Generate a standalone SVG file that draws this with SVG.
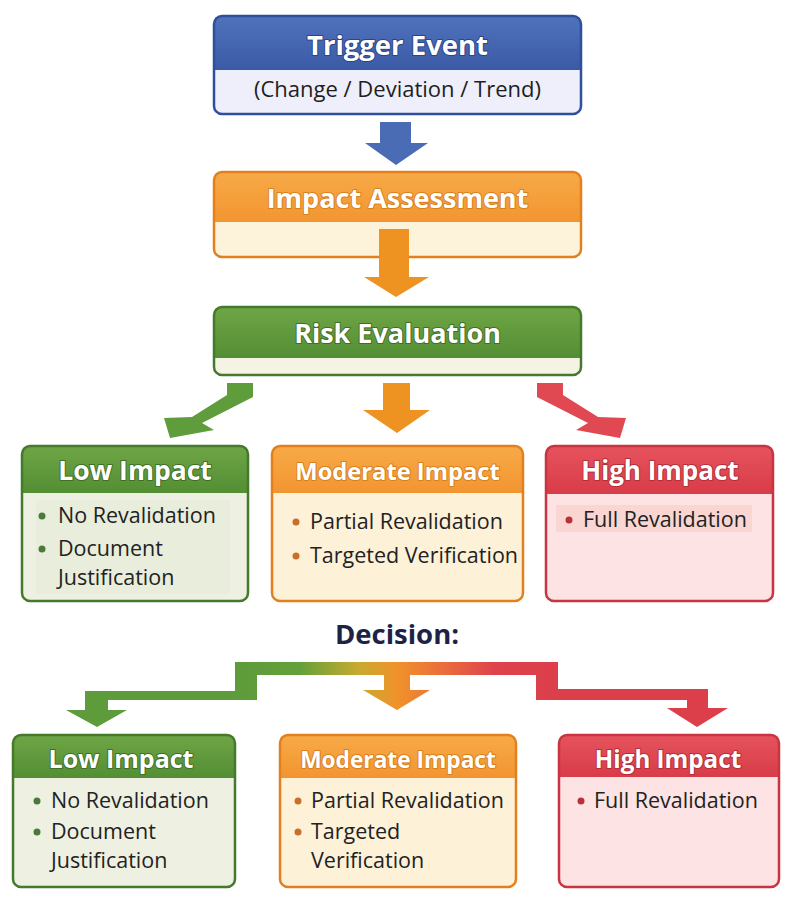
<svg xmlns="http://www.w3.org/2000/svg" width="797" height="900" viewBox="0 0 797 900">
<defs>
<linearGradient id="gBlue" x1="0" y1="0" x2="0" y2="1"><stop offset="0" stop-color="#5072bb"/><stop offset="1" stop-color="#3b5aa6"/></linearGradient>
<linearGradient id="gOrange" x1="0" y1="0" x2="0" y2="1"><stop offset="0" stop-color="#f7aa48"/><stop offset="1" stop-color="#f29530"/></linearGradient>
<linearGradient id="gGreen" x1="0" y1="0" x2="0" y2="1"><stop offset="0" stop-color="#6ea646"/><stop offset="1" stop-color="#548e34"/></linearGradient>
<linearGradient id="gRed" x1="0" y1="0" x2="0" y2="1"><stop offset="0" stop-color="#e6535d"/><stop offset="1" stop-color="#d83c48"/></linearGradient>
<linearGradient id="gDecision" gradientUnits="userSpaceOnUse" x1="235" y1="0" x2="560" y2="0">
<stop offset="0" stop-color="#5e9b3a"/><stop offset="0.2" stop-color="#64a03a"/><stop offset="0.38" stop-color="#c8aa30"/><stop offset="0.5" stop-color="#f0922a"/><stop offset="0.65" stop-color="#ea6a3e"/><stop offset="0.8" stop-color="#de424c"/><stop offset="1" stop-color="#dc3f4a"/>
</linearGradient>
</defs>
<style>
.title{font-family:"Open Sans",Lato,"Liberation Sans",sans-serif;font-weight:700;fill:#fff;text-anchor:middle;paint-order:stroke;stroke-width:2px;stroke-linejoin:round}
.sub{font-family:"Open Sans",Lato,"Liberation Sans",sans-serif;font-size:22px;fill:#1e1e1e;text-anchor:middle}
.item{font-family:"Open Sans",Lato,"Liberation Sans",sans-serif;font-size:21.5px;fill:#222}
.border{fill:none;stroke-width:2.5px}
.b-blue{stroke:#2f4f9a}.b-orange{stroke:#e3801e}.b-green{stroke:#457a2c}.b-red{stroke:#c83440}
.s-blue{stroke:#2a4488}.s-orange{stroke:#d9801e}.s-green{stroke:#3e6f26}.s-red{stroke:#b52e3a}
.dg{fill:#4a7a3a}.do{fill:#c8702a}.dr{fill:#b83238}
.decision{font-family:"Open Sans",Lato,"Liberation Sans",sans-serif;font-weight:700;font-size:27.5px;fill:#1c2347;text-anchor:middle}
</style>
<rect width="797" height="900" fill="#ffffff"/>

<g id="trigger">
<rect x="214" y="16" width="367" height="98" rx="8" fill="#eeeffa"/>
<path d="M214,70 V24 Q214,16 222,16 H573 Q581,16 581,24 V70 Z" fill="url(#gBlue)"/>
<rect x="214" y="16" width="367" height="98" rx="8" class="border b-blue"/>
<text x="397.5" y="55" class="title s-blue" font-size="27.5">Trigger Event</text>
<text x="397.5" y="97" class="sub">(Change / Deviation / Trend)</text>
</g>

<g id="impact-assessment">
<rect x="214" y="172" width="367" height="85" rx="8" fill="#fdf2da"/>
<path d="M214,222 V180 Q214,172 222,172 H573 Q581,172 581,180 V222 Z" fill="url(#gOrange)"/>
<rect x="214" y="172" width="367" height="85" rx="8" class="border b-orange"/>
<text x="397.5" y="208" class="title s-orange" font-size="27">Impact Assessment</text>
</g>

<g id="risk-evaluation">
<rect x="214" y="307" width="367" height="68" rx="8" fill="#f5f3e3"/>
<path d="M214,358 V315 Q214,307 222,307 H573 Q581,307 581,315 V358 Z" fill="url(#gGreen)"/>
<rect x="214" y="307" width="367" height="68" rx="8" class="border b-green"/>
<text x="397.5" y="343" class="title s-green" font-size="27">Risk Evaluation</text>
</g>

<g id="connectors">
<polygon points="380,122 411,122 411,143 428,143 396,165 365,143 380,143" fill="#4a6cb5"/>
<polygon points="379,229 409,229 409,277 429,277 396,297 364,277 379,277" fill="#ee9322"/>
<polygon points="227,383 253,383 253,397 202,423 214,430 170,438 164,418 192,417 227,395" fill="#5e9c3c"/>
<polygon points="383,383 410,383 410,410 430,410 397,433 363,410 383,410" fill="#ee9322"/>
<polygon points="563,383 537,383 537,397 588,423 576,430 620,438 626,418 598,417 563,395" fill="#e04852"/>
<path d="M235,662 H558 V689 H708 V708 H728 L697,727 L667,708 H687 V700 H536 V675 H410 V690 H430 L397,710 L363,690 H384 V675 H257 V700 H108 V710 H127 L97,727 L66,710 H85 V691 H235 Z" fill="url(#gDecision)"/>
</g>

<g id="low-impact-1">
<rect x="22" y="446" width="226" height="155" rx="8" fill="#eef1e2"/>
<rect x="36" y="500" width="194" height="94" fill="#e9eddc"/>
<path d="M22,493 V454 Q22,446 30,446 H240 Q248,446 248,454 V493 Z" fill="url(#gGreen)"/>
<rect x="22" y="446" width="226" height="155" rx="8" class="border b-green"/>
<text x="135" y="480" class="title s-green" font-size="26.5">Low Impact</text>
<circle cx="42" cy="516" r="3.5" class="dg"/>
<text x="58" y="523" class="item">No Revalidation</text>
<circle cx="42" cy="549" r="3.5" class="dg"/>
<text x="58" y="556" class="item">Document</text>
<text x="58" y="585" class="item">Justification</text>
</g>

<g id="moderate-impact-1">
<rect x="272" y="446" width="251" height="155" rx="8" fill="#fdf1d8"/>
<path d="M272,493 V454 Q272,446 280,446 H515 Q523,446 523,454 V493 Z" fill="url(#gOrange)"/>
<rect x="272" y="446" width="251" height="155" rx="8" class="border b-orange"/>
<text x="397.5" y="480" class="title s-orange" font-size="23.7">Moderate Impact</text>
<circle cx="296" cy="522" r="3.5" class="do"/>
<text x="310" y="529" class="item" font-size="21">Partial Revalidation</text>
<circle cx="296" cy="556" r="3.5" class="do"/>
<text x="310" y="563" class="item" font-size="21">Targeted Verification</text>
</g>

<g id="high-impact-1">
<rect x="546" y="446" width="227" height="155" rx="8" fill="#fde3e3"/>
<rect x="556" y="505" width="196" height="27" fill="#f9d6d2"/>
<path d="M546,494 V454 Q546,446 554,446 H765 Q773,446 773,454 V494 Z" fill="url(#gRed)"/>
<rect x="546" y="446" width="227" height="155" rx="8" class="border b-red"/>
<text x="660" y="480" class="title s-red" font-size="26">High Impact</text>
<circle cx="569" cy="520" r="3.5" class="dr"/>
<text x="583" y="527" class="item">Full Revalidation</text>
</g>

<g id="decision-label">
<text x="397" y="644" class="decision">Decision:</text>
</g>

<g id="low-impact-2">
<rect x="13" y="735" width="222" height="152" rx="8" fill="#eef1e2"/>
<path d="M13,778 V743 Q13,735 21,735 H227 Q235,735 235,743 V778 Z" fill="url(#gGreen)"/>
<rect x="13" y="735" width="222" height="152" rx="8" class="border b-green"/>
<text x="121" y="768" class="title s-green" font-size="25">Low Impact</text>
<circle cx="37" cy="801" r="3.5" class="dg"/>
<text x="51" y="808" class="item">No Revalidation</text>
<circle cx="37" cy="832" r="3.5" class="dg"/>
<text x="51" y="839" class="item">Document</text>
<text x="51" y="868" class="item">Justification</text>
</g>

<g id="moderate-impact-2">
<rect x="280" y="735" width="236" height="152" rx="8" fill="#fdf1d8"/>
<path d="M280,778 V743 Q280,735 288,735 H508 Q516,735 516,743 V778 Z" fill="url(#gOrange)"/>
<rect x="280" y="735" width="236" height="152" rx="8" class="border b-orange"/>
<text x="398" y="768" class="title s-orange" font-size="22.7">Moderate Impact</text>
<circle cx="298" cy="801" r="3.5" class="do"/>
<text x="311" y="808" class="item" font-size="21">Partial Revalidation</text>
<circle cx="298" cy="832" r="3.5" class="do"/>
<text x="311" y="839" class="item">Targeted</text>
<text x="311" y="868" class="item">Verification</text>
</g>

<g id="high-impact-2">
<rect x="559" y="735" width="220" height="152" rx="8" fill="#fde3e3"/>
<path d="M559,777 V743 Q559,735 567,735 H771 Q779,735 779,743 V777 Z" fill="url(#gRed)"/>
<rect x="559" y="735" width="220" height="152" rx="8" class="border b-red"/>
<text x="668" y="768" class="title s-red" font-size="24.2">High Impact</text>
<circle cx="581" cy="801" r="3.5" class="dr"/>
<text x="594" y="808" class="item">Full Revalidation</text>
</g>
</svg>
